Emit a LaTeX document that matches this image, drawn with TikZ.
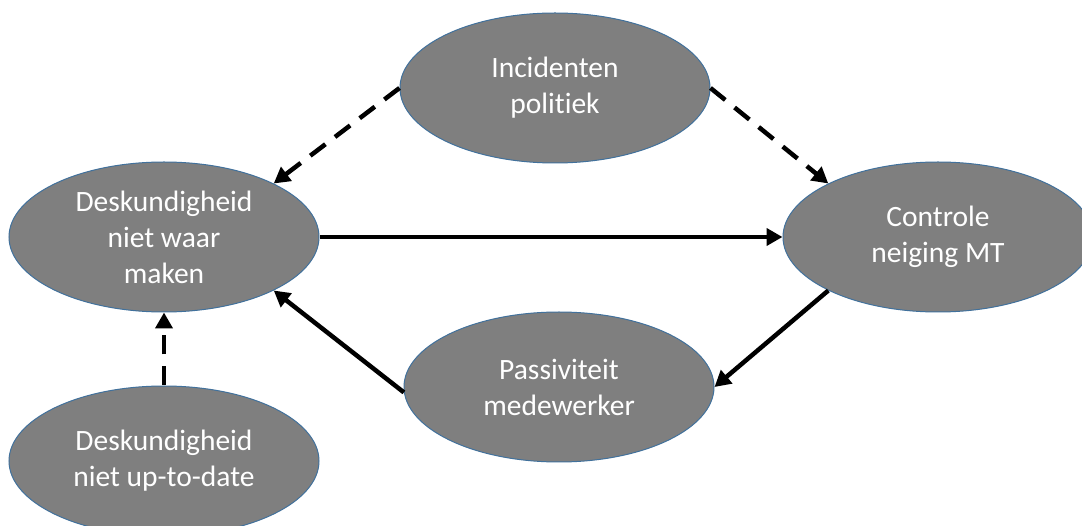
\documentclass[tikz,border=0pt]{standalone}
\usepackage{fontspec}
\setmainfont[Ligatures=NoCommon]{Carlito}
\usetikzlibrary{shapes.geometric,arrows.meta}
\definecolor{bubblefill}{HTML}{7F7F7F}
\definecolor{bubbleedge}{HTML}{41719C}
\tikzset{
  bubble/.style={ellipse, draw=bubbleedge, line width=1pt, fill=bubblefill,
    minimum width=310pt, minimum height=150pt, inner sep=0pt,
    text=white, align=center, font=\fontsize{29.5}{36}\selectfont},
  link/.style={line width=4.5pt, -{Triangle[length=16pt,width=17pt]}},
  weaklink/.style={link, dash pattern=on 19pt off 12pt},
}
\begin{document}
\begin{tikzpicture}[x=1pt,y=-1pt]
  \useasboundingbox (0,0) rectangle (1082,526);
  \clip (0,0) rectangle (1082,526);
  \fill[white] (0,0) rectangle (1082,526);

  % the five factors
  \node[bubble] (inc) at (555,88)  {Incidenten\\politiek};
  \node[bubble] (dw)  at (164,237) {Deskundigheid\\niet waar\\maken};
  \node[bubble] (ct)  at (938,237) {Controle\\neiging MT};
  \node[bubble] (pa)  at (559,387) {Passiviteit\\medewerker};
  \node[bubble] (ut)  at (164,461) {Deskundigheid\\niet up-to-date};

  % influences between them
  \draw[weaklink] (inc.west) -- (dw.26);
  \draw[weaklink] (inc.east) -- (ct.154);
  \draw[link] (dw.east) -- (ct.west);
  \draw[link] (ct.206) -- (pa.east);
  \draw[link] (pa.182) -- (dw.334);
  \draw[weaklink] (ut.north) -- (dw.south);
\end{tikzpicture}
\end{document}
